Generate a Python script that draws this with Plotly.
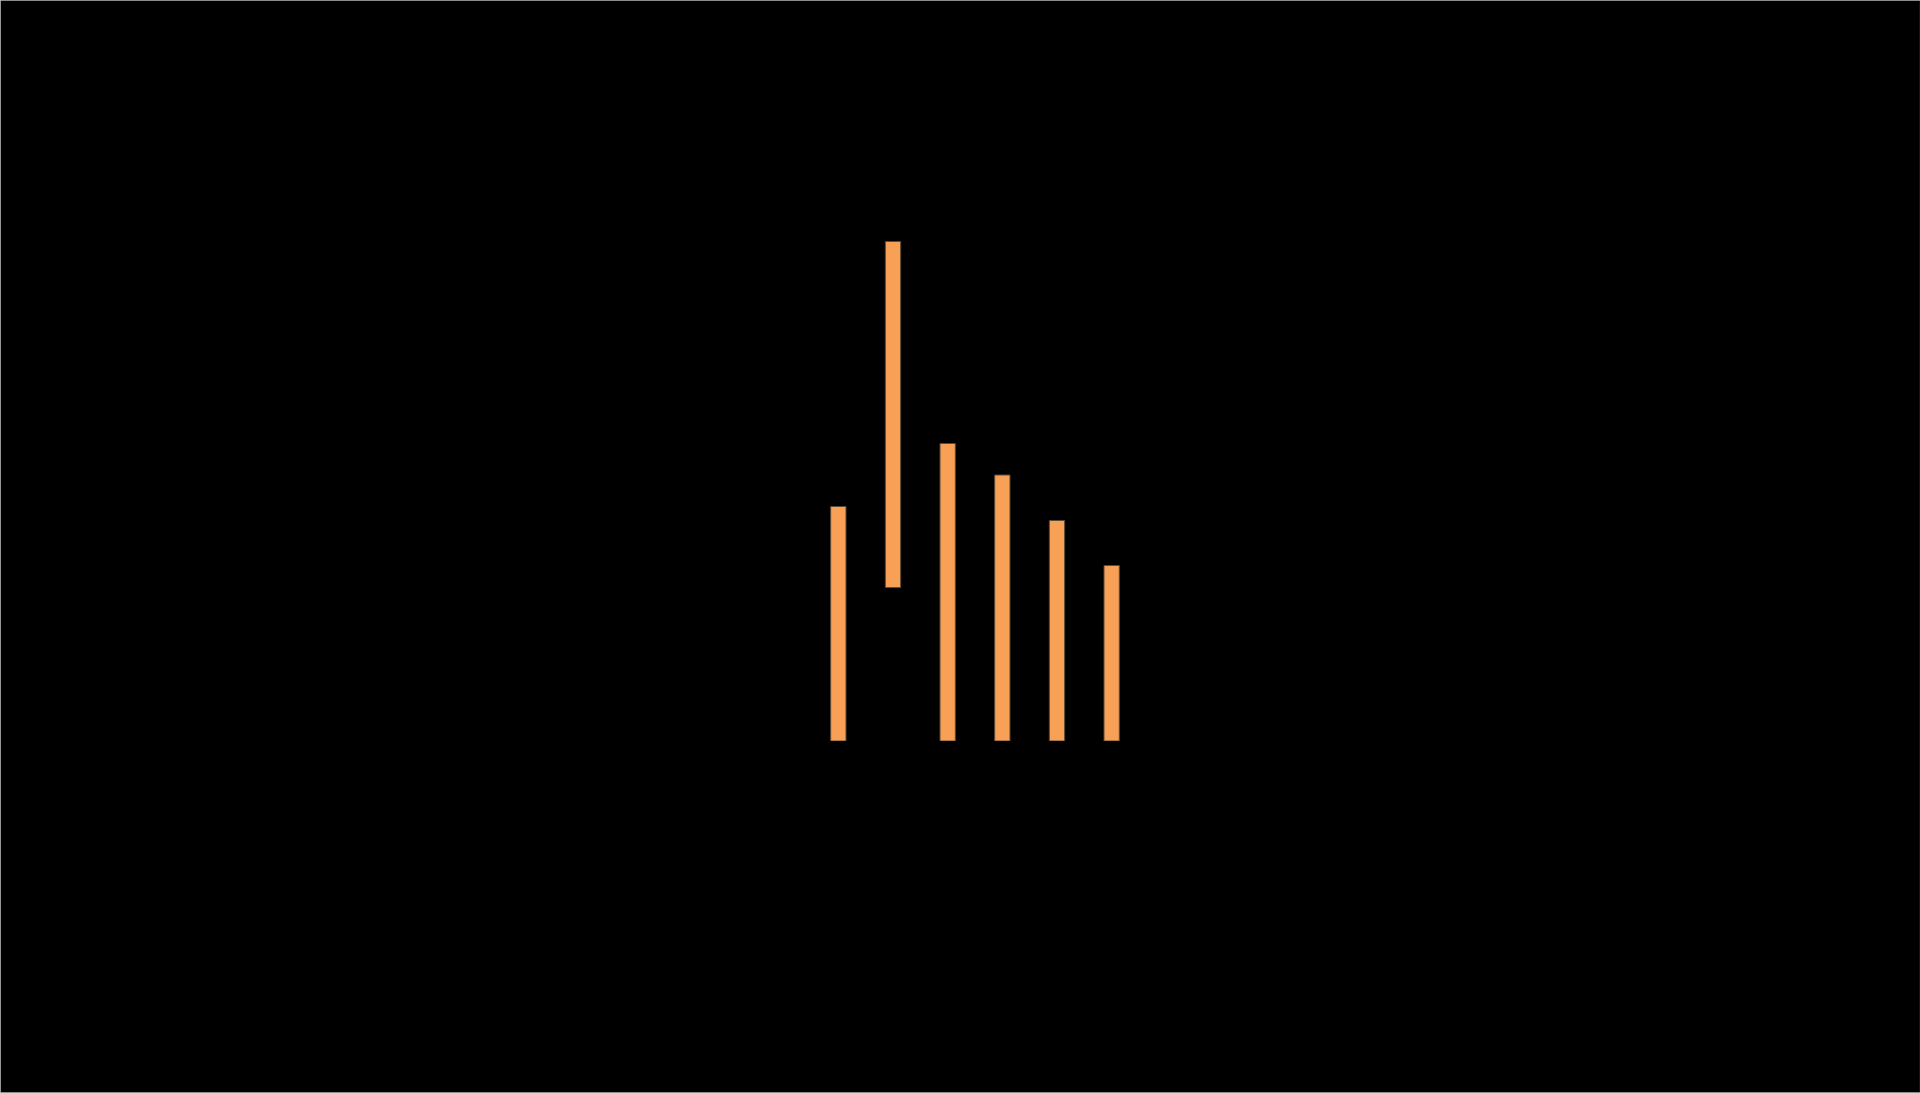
import plotly.graph_objects as go

# Data (relative units; no axes are visible)
categories = ["A", "B", "C", "D", "E", "F"]
bar_base = [0, 30.7, 0, 0, 0, 0]
bar_top = [46.9, 99.9, 59.5, 53.2, 44.1, 35.1]
bar_len = [t - b for t, b in zip(bar_top, bar_base)]

fig = go.Figure(
    go.Bar(
        x=categories,
        y=bar_len,
        base=bar_base,
        width=0.28,
        marker=dict(color="#F8A055", line=dict(color="#5a4a3a", width=1)),
        showlegend=False,
    )
)

W, H = 1920, 1093
left_px, right_px = 810.7, 1138.6
y0_px = 741.0
px_per_unit = 5.0
y_max = 110
top_px = y0_px - y_max * px_per_unit

fig.update_layout(
    width=W,
    height=H,
    autosize=False,
    paper_bgcolor="#000000",
    plot_bgcolor="#000000",
    margin=dict(l=left_px, r=W - right_px, t=top_px, b=H - y0_px, pad=0),
    xaxis=dict(visible=False, range=[-0.5, 5.5]),
    yaxis=dict(visible=False, range=[0, y_max]),
    shapes=[
        dict(type="rect", xref="paper", yref="paper",
             x0=-left_px / (right_px - left_px),
             x1=1 + (W - right_px) / (right_px - left_px),
             y0=-(H - y0_px) / (y0_px - top_px),
             y1=1 + top_px / (y0_px - top_px),
             line=dict(color="#bbbbbb", width=1.5))
    ],
)

fig.write_html(
    "out.html",
    config={"displayModeBar": False},
    post_script="document.body.style.margin='0';document.body.style.overflow='hidden';",
)
